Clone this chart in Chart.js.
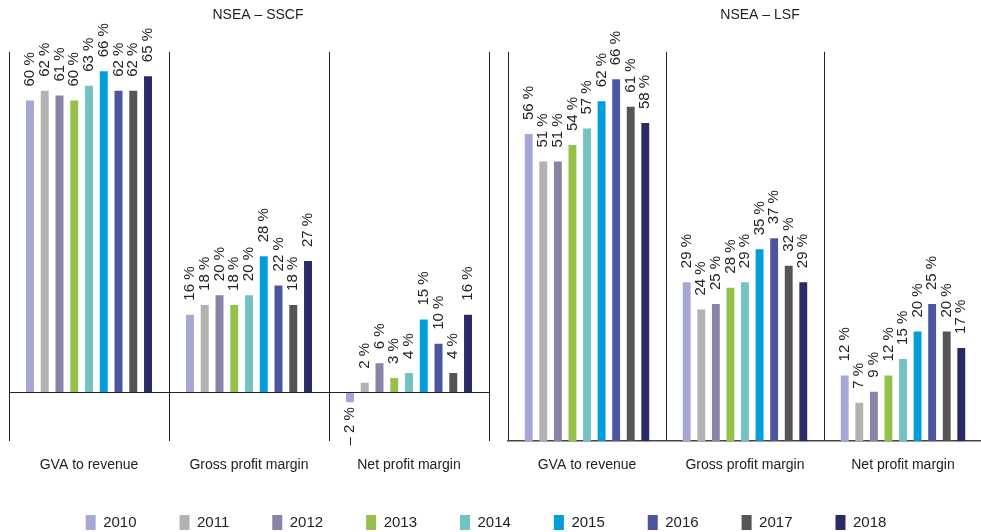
<!DOCTYPE html>
<html>
<head>
<meta charset="utf-8">
<script src="https://cdn.jsdelivr.net/npm/chart.js@4.4.1/dist/chart.umd.min.js"></script>
<style>
  html, body { margin: 0; padding: 0; background: #fff; overflow: hidden; }
  #wrap { position: relative; width: 981px; height: 532px; overflow: hidden; }
  canvas { position: absolute; }
</style>
</head>
<body>
<div id="wrap">
  <canvas id="sscf" width="516" height="490" style="left:0;top:0"></canvas>
  <canvas id="lsf" width="540" height="490" style="left:490px;top:0"></canvas>
  <canvas id="legend" width="981" height="160" style="left:0;top:472px"></canvas>
</div>
<script>
const years = ['2010', '2011', '2012', '2013', '2014', '2015', '2016', '2017', '2018'];
const metrics = ['GVA to revenue', 'Gross profit margin', 'Net profit margin'];

// NSEA - SSCF, % per year
const sscfGva   = [60, 62, 61, 60, 63, 66, 62, 62, 65];
const sscfGross = [16, 18, 20, 18, 20, 28, 22, 18, 27];
const sscfNet   = [-2, 2, 6, 3, 4, 15, 10, 4, 16];

// NSEA - LSF, % per year
const lsfGva   = [56, 51, 51, 54, 57, 62, 66, 61, 58];
const lsfGross = [29, 24, 25, 28, 29, 35, 37, 32, 29];
const lsfNet   = [12, 7, 9, 12, 15, 20, 25, 20, 17];

const yearColors = ['#a5a8d4', '#b2b2b2', '#8a82a8', '#95c14b', '#72c4c4',
                    '#009fdb', '#4c559f', '#555555', '#292a66'];

const FONT = 'Liberation Sans, Arial, sans-serif';
const INK = '#222';

function makeDatasets(gva, gross, net) {
    return years.map((y, i) => ({
        label: y,
        data: [gva[i], gross[i], net[i]],
        backgroundColor: yearColors[i],
        borderWidth: 0,
        categoryPercentage: 0.83,
        barPercentage: 0.54
    }));
}

// rotated value labels above (or below) each bar
const barLabels = {
    id: 'barLabels',
    afterDatasetsDraw(chart) {
        const ctx = chart.ctx;
        ctx.save();
        ctx.font = '15px ' + FONT;
        ctx.fillStyle = INK;
        ctx.textBaseline = 'middle';
        chart.data.datasets.forEach((ds, i) => {
            chart.getDatasetMeta(i).data.forEach((bar, j) => {
                const v = ds.data[j];
                const txt = (v < 0 ? '\u2013 ' + Math.abs(v) : v) + ' %';
                ctx.save();
                ctx.translate(bar.x, v < 0 ? bar.y + 5 : bar.y - 14);
                ctx.rotate(-Math.PI / 2);
                ctx.textAlign = v < 0 ? 'right' : 'left';
                ctx.fillText(txt, 0, 0);
                ctx.restore();
            });
        });
        ctx.restore();
    }
};

function panelOptions(title, yMin, yMax, leftW, rightW, bottomBorder, padBottom) {
    return {
        responsive: false,
        animation: false,
        layout: { padding: { bottom: padBottom } },
        plugins: {
            legend: { display: false },
            tooltip: { enabled: false },
            title: {
                display: true,
                text: title,
                color: INK,
                font: { family: FONT, size: 14, weight: 'normal' },
                padding: { top: 7, bottom: 28 }
            }
        },
        scales: {
            x: {
                grid: { offset: true, color: INK, lineWidth: 1, drawTicks: false },
                border: { display: bottomBorder, color: '#444', width: 1.5 },
                ticks: { color: INK, font: { family: FONT, size: 14 }, padding: 16 }
            },
            y: {
                min: yMin,
                max: yMax,
                ticks: { display: false, stepSize: 10 },
                grid: {
                    display: !bottomBorder,
                    drawTicks: false,
                    color: c => c.tick.value === 0 ? INK : 'rgba(0,0,0,0)'
                },
                border: { display: false },
                afterFit: s => { s.width = leftW; }
            },
            yPad: {
                type: 'linear',
                position: 'right',
                ticks: { display: false },
                grid: { display: false },
                border: { display: false },
                afterFit: s => { s.width = rightW; }
            }
        }
    };
}

new Chart(document.getElementById('sscf'), {
    type: 'bar',
    data: { labels: metrics, datasets: makeDatasets(sscfGva, sscfGross, sscfNet) },
    options: panelOptions('NSEA \u2013 SSCF', -10, 70, 9, 27, false, 0),
    plugins: [barLabels]
});

new Chart(document.getElementById('lsf'), {
    type: 'bar',
    data: { labels: metrics, datasets: makeDatasets(lsfGva, lsfGross, lsfNet) },
    options: panelOptions('NSEA \u2013 LSF', 0, 71, 18, 48, true, 0),
    plugins: [barLabels]
});

// legend only
new Chart(document.getElementById('legend'), {
    type: 'bar',
    data: {
        labels: [],
        datasets: years.map((y, i) => ({ label: y, data: [], backgroundColor: yearColors[i] }))
    },
    options: {
        responsive: false,
        animation: false,
        layout: { padding: { right: 9 } },
        scales: { x: { display: false }, y: { display: false } },
        plugins: {
            tooltip: { enabled: false },
            legend: {
                position: 'top',
                labels: {
                    boxWidth: 10,
                    boxHeight: 15,
                    padding: 43,
                    color: INK,
                    font: { family: FONT, size: 15 }
                }
            }
        }
    }
});
</script>
</body>
</html>
